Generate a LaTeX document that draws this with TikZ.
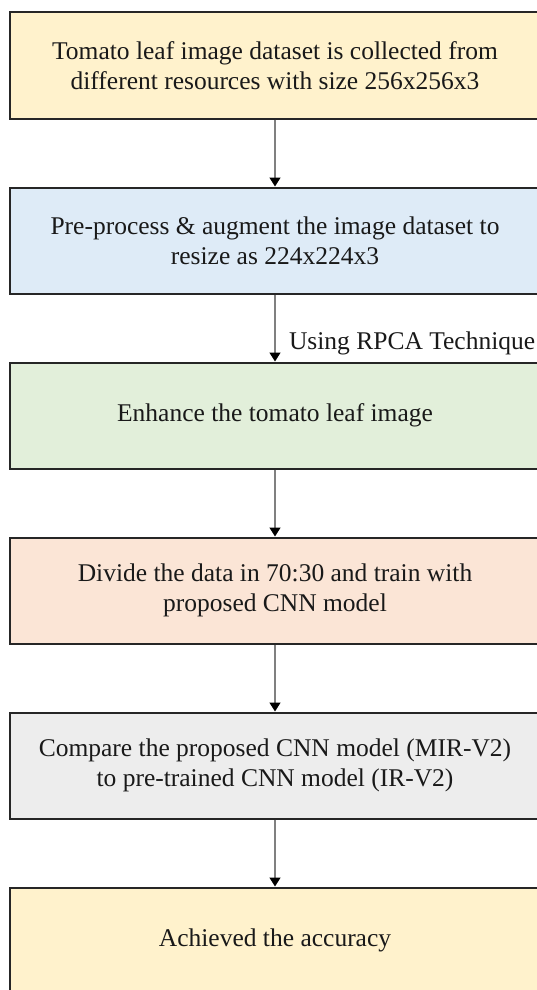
\documentclass[tikz,border=0pt]{standalone}
\usepackage{fontspec}
\setmainfont{Liberation Serif}
\usetikzlibrary{arrows.meta}
\definecolor{boxyellow}{HTML}{FFF2CC}
\definecolor{boxblue}{HTML}{DEEBF7}
\definecolor{boxgreen}{HTML}{E2EFDA}
\definecolor{boxorange}{HTML}{FBE5D6}
\definecolor{boxgray}{HTML}{EDEDED}
\begin{document}
\begin{tikzpicture}[x=1pt,y=-1pt]
	\tikzstyle{Box} = [rectangle, minimum width=531pt, minimum height=106pt, align=center, draw=black!85, line width=2pt, font=\fontsize{25.5}{30}\selectfont, text=black!90]
	\tikzstyle{arrow} = [draw=black!50, line width=1.4pt, -{Triangle[width=11pt,length=9pt,color=black]}]
	
	\useasboundingbox (0,0) rectangle (536,990);
	
	\node (collect) [Box, fill=boxyellow] at (275,65.5) {Tomato leaf image dataset is collected from\\different resources with size 256x256x3};
	\node (preproc) [Box, fill=boxblue] at (275,240.5) {Pre-process \& augment the image dataset to\\resize as 224x224x3};
	\node (enhance) [Box, fill=boxgreen] at (275,415.5) {Enhance the tomato leaf image};
	\node (divide) [Box, fill=boxorange] at (275,590.5) {Divide the data in 70:30 and train with\\proposed CNN model};
	\node (compare) [Box, fill=boxgray] at (275,765.5) {Compare the proposed CNN model (MIR-V2)\\to pre-trained CNN model (IR-V2)};
	\node (result) [Box, fill=boxyellow] at (275,940.5) {Achieved the accuracy};
	
	\draw [arrow] (collect) -- (preproc);
	\draw [arrow] (preproc) -- node (rpca) [right, xshift=10pt, yshift=-15pt, font=\fontsize{25.5}{30}\selectfont, text=black!90] {Using RPCA Technique} (enhance);
	\draw [arrow] (enhance) -- (divide);
	\draw [arrow] (divide) -- (compare);
	\draw [arrow] (compare) -- (result);
\end{tikzpicture}
\end{document}
